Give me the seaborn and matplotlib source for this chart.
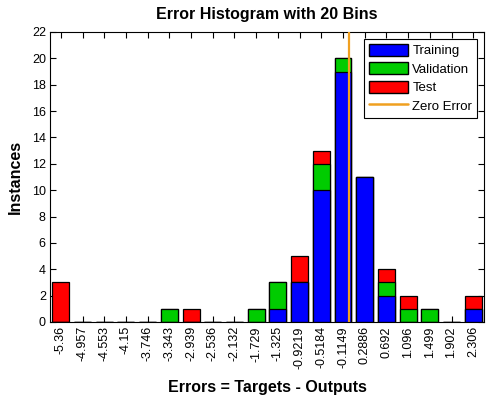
import matplotlib
matplotlib.use("Agg")
import matplotlib.pyplot as plt
import seaborn as sns
import numpy as np
from matplotlib.patches import Patch
from matplotlib.lines import Line2D
from matplotlib import font_manager

bin_labels = ["-5.36", "-4.957", "-4.553", "-4.15", "-3.746", "-3.343", "-2.939",
              "-2.536", "-2.132", "-1.729", "-1.325", "-0.9219", "-0.5184", "-0.1149",
              "0.2886", "0.692", "1.096", "1.499", "1.902", "2.306"]
training   = [0, 0, 0, 0, 0, 0, 0, 0, 0, 0, 1, 3, 10, 19, 11, 2, 0, 0, 0, 1]
validation = [0, 0, 0, 0, 0, 1, 0, 0, 0, 1, 2, 0, 2, 1, 0, 1, 1, 1, 0, 0]
test       = [3, 0, 0, 0, 0, 0, 1, 0, 0, 0, 0, 2, 1, 0, 0, 1, 1, 0, 0, 1]
zero_error = 0.0

sns.set_style("ticks")
plt.rcParams["font.family"] = ["Liberation Sans", "DejaVu Sans"]
for k in ["text.color", "axes.labelcolor", "xtick.color", "ytick.color", "axes.edgecolor"]:
    plt.rcParams[k] = "black"

names = {f.name for f in font_manager.fontManager.ttflist}
tick_family = "Liberation Sans Narrow" if "Liberation Sans Narrow" in names else "Liberation Sans"
tick_size = 10.5 if tick_family == "Liberation Sans Narrow" else 9

fig = plt.figure(figsize=(4.97, 3.98), dpi=100)
ax = fig.add_axes([0.1006, 0.191, 0.8734, 0.7286])

tr = np.array(training)
va = np.array(validation)
te = np.array(test)

layers = [
    (tr + va + te, "#FF0000"),
    (tr + va, "#00CC00"),
    (tr, "#0000FF"),
]
for heights, col in layers:
    sns.barplot(x=bin_labels, y=heights, order=bin_labels, color=col, saturation=1,
                edgecolor="black", linewidth=0.9, width=0.78, ax=ax)

centers = np.array([float(s) for s in bin_labels])
step = (centers[-1] - centers[0]) / (len(centers) - 1)
zpos = (zero_error - centers[0]) / step
ax.axvline(zpos, color="#F0A020", linewidth=1.6, zorder=5)

ax.set_xlim(-0.5, len(bin_labels) - 0.5)
ax.set_ylim(0, 22)
ax.set_yticks(range(0, 23, 2))
ax.tick_params(axis="both", direction="in", top=True, right=True, length=4,
               width=0.8, pad=3, colors="black")
ax.tick_params(axis="x", labelrotation=90)
for lab in ax.get_xticklabels() + ax.get_yticklabels():
    lab.set_fontfamily(tick_family)
    lab.set_fontsize(tick_size)
for sp in ax.spines.values():
    sp.set_visible(True)
    sp.set_linewidth(0.8)
    sp.set_color("black")

ax.set_title("Error Histogram with 20 Bins", fontsize=11.5, fontweight="bold", pad=9,
             color="black")
ax.set_xlabel("Errors = Targets - Outputs", fontsize=11.5, fontweight="bold", color="black")
ax.xaxis.set_label_coords(0.5, -0.2)
ax.set_ylabel("Instances", fontsize=11.5, fontweight="bold", color="black")
ax.yaxis.set_label_coords(-0.062, 0.5)

handles = [
    Patch(facecolor="#0000FF", edgecolor="black", label="Training"),
    Patch(facecolor="#00CC00", edgecolor="black", label="Validation"),
    Patch(facecolor="#FF0000", edgecolor="black", label="Test"),
    Line2D([0], [0], color="#F0A020", linewidth=1.8, label="Zero Error"),
]
leg = ax.legend(handles=handles, loc="upper right", fontsize=9.5, fancybox=False,
                framealpha=1, edgecolor="black", borderaxespad=0.5,
                handlelength=3.0, handleheight=1.05, labelspacing=0.36,
                handletextpad=0.3, borderpad=0.4)
leg.get_frame().set_linewidth(0.8)
for t in leg.get_texts():
    t.set_fontfamily(tick_family)
    t.set_color("black")

fig.savefig("out.png", dpi=100, facecolor="white")
